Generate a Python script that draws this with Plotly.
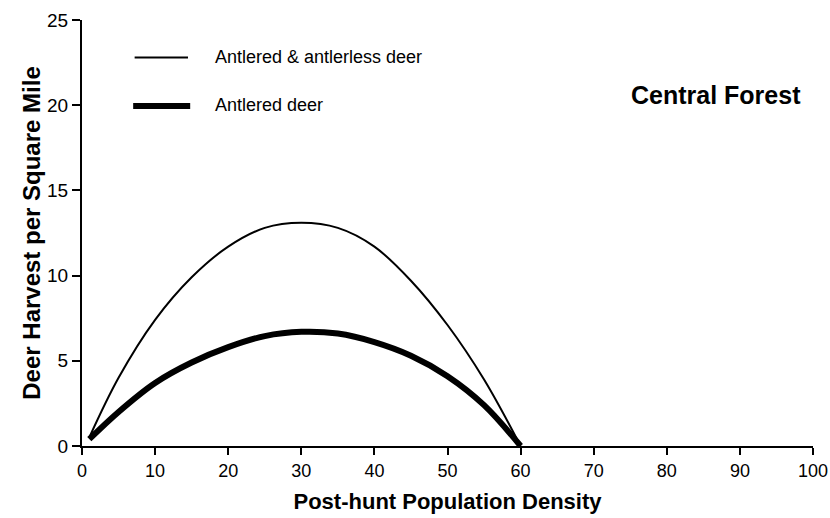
import plotly.graph_objects as go

# Data
density = [1, 5, 10, 15, 20, 25, 30, 35, 40, 45, 50, 55, 60]
all_deer = [0.5, 4.0, 7.4, 9.9, 11.7, 12.8, 13.1, 12.8, 11.7, 9.7, 7.1, 3.9, 0.0]
antlered = [0.4, 2.0, 3.7, 4.9, 5.8, 6.45, 6.7, 6.6, 6.1, 5.3, 4.1, 2.4, 0.0]

x_ticks = [0, 10, 20, 30, 40, 50, 60, 70, 80, 90, 100]
y_ticks = [0, 5, 10, 15, 20, 25]

FONT = "Liberation Sans, Arial, Helvetica, sans-serif"

fig = go.Figure()
fig.add_trace(go.Scatter(x=density, y=all_deer, mode="lines",
                         name="Antlered & antlerless deer",
                         line=dict(color="black", width=2, shape="spline"),
                         cliponaxis=False, showlegend=False))
fig.add_trace(go.Scatter(x=density, y=antlered, mode="lines",
                         name="Antlered deer",
                         line=dict(color="black", width=6, shape="spline"),
                         cliponaxis=False, showlegend=False))

# legend samples (key) drawn in data coordinates
fig.add_shape(type="line", x0=7.2, x1=14.5, y0=22.8, y1=22.8,
              line=dict(color="black", width=2))
fig.add_shape(type="line", x0=7.0, x1=14.8, y0=19.95, y1=19.95,
              line=dict(color="black", width=6))
fig.add_annotation(x=17.9, y=22.85, text="Antlered & antlerless deer", showarrow=False,
                   xanchor="left", font=dict(family=FONT, size=18, color="black"))
fig.add_annotation(x=17.9, y=20.0, text="Antlered deer", showarrow=False,
                   xanchor="left", font=dict(family=FONT, size=18, color="black"))
fig.add_annotation(x=98.6, y=20.6, text="<b>Central Forest</b>", showarrow=False,
                   xanchor="right", font=dict(family=FONT, size=25, color="black"))

fig.update_layout(
    width=830, height=518,
    margin=dict(l=82, r=17, t=20, b=72),
    paper_bgcolor="white", plot_bgcolor="white",
    font=dict(family=FONT, color="black"),
    xaxis=dict(range=[0, 100], tickvals=x_ticks, ticks="outside", ticklen=7,
               tickwidth=1.5, tickcolor="black", showgrid=False, zeroline=False,
               showline=True, linecolor="black", linewidth=2, automargin=False,
               tickfont=dict(size=18), ticklabeloverflow="allow",
               title=dict(text="<b>Post-hunt Population Density</b>",
                          font=dict(size=22), standoff=14)),
    yaxis=dict(range=[0, 25], tickvals=y_ticks, ticks="outside", ticklen=8,
               tickwidth=1.5, tickcolor="black", showgrid=False, zeroline=False,
               showline=True, linecolor="black", linewidth=2, automargin=False,
               tickfont=dict(size=19),
               title=dict(text="<b>Deer Harvest per Square Mile</b>",
                          font=dict(size=24), standoff=0)),
)

fig.write_html("out.html", config={"displayModeBar": False},
               post_script="document.body.style.margin='0';document.body.style.overflow='hidden';")
